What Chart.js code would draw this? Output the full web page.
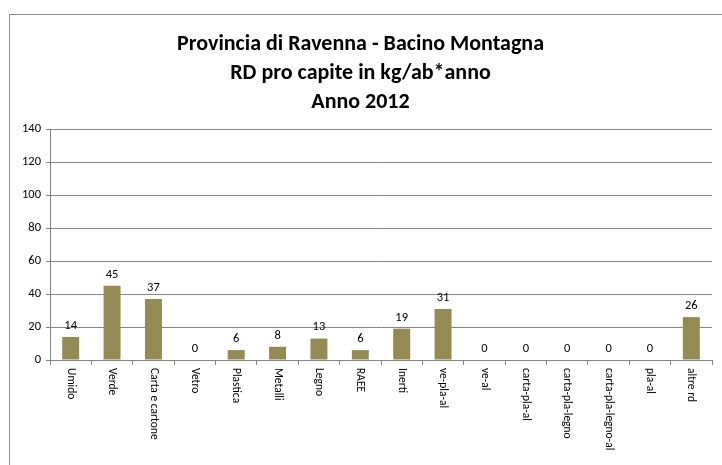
<!DOCTYPE html>
<html>
<head>
<meta charset="utf-8">
<script src="https://cdn.jsdelivr.net/npm/chart.js@4"></script>
<style>
  body { margin: 0; background: #fff; }
  #wrap { position: relative; width: 722px; height: 465px; overflow: hidden; }
  #frame { position: absolute; left: 9px; top: 14px; width: 760px; height: 500px; border: 1px solid #8c8c8c; }
  canvas { position: absolute; left: 0; top: 0; }
</style>
</head>
<body>
<div id="wrap">
  <div id="frame"></div>
  <canvas id="rdChart" width="722" height="465"></canvas>
</div>
<script>
const categories = ['Umido', 'Verde', 'Carta e cartone', 'Vetro', 'Plastica', 'Metalli', 'Legno', 'RAEE',
    'Inerti', 've-pla-al', 've-al', 'carta-pla-al', 'carta-pla-legno', 'carta-pla-legno-al', 'pla-al', 'altre rd'];
const rdValues = [14, 45, 37, 0, 6, 8, 13, 6, 19, 31, 0, 0, 0, 0, 0, 26];
const titleLines = ['Provincia di Ravenna - Bacino Montagna', 'RD pro capite in kg/ab*anno', 'Anno 2012'];

const fontFamily = 'Carlito, Calibri, "Open Sans", "Liberation Sans", sans-serif';

// values above bars + labels rotated to read top-to-bottom
const barLabels = {
    id: 'barLabels',
    afterDatasetsDraw(chart) {
        const ctx = chart.ctx;
        const meta = chart.getDatasetMeta(0);
        ctx.save();
        ctx.font = '12.5px ' + fontFamily;
        ctx.fillStyle = '#000';
        ctx.textAlign = 'center';
        ctx.textBaseline = 'bottom';
        meta.data.forEach(function (bar, i) {
            ctx.fillText(rdValues[i], bar.x, bar.y - 5);
        });
        ctx.restore();

        const xScale = chart.scales.x;
        ctx.save();
        ctx.font = '11.5px ' + fontFamily;
        ctx.fillStyle = '#000';
        ctx.textAlign = 'left';
        ctx.textBaseline = 'middle';
        categories.forEach(function (c, i) {
            ctx.save();
            ctx.translate(xScale.getPixelForValue(i), xScale.top + 8);
            ctx.rotate(Math.PI / 2);
            ctx.fillText(c, 0, 0);
            ctx.restore();
        });
        ctx.restore();
    }
};

new Chart(document.getElementById('rdChart').getContext('2d'), {
    type: 'bar',
    data: {
        labels: categories,
        datasets: [{
            data: rdValues,
            backgroundColor: '#948a54',
            borderWidth: 0,
            barPercentage: 0.82,
            categoryPercentage: 0.5
        }]
    },
    options: {
        responsive: false,
        animation: false,
        layout: { padding: { left: 9, right: 10, top: 0, bottom: 0 } },
        plugins: {
            legend: { display: false },
            tooltip: { enabled: false },
            title: {
                display: true,
                text: titleLines,
                color: '#000',
                font: { family: fontFamily, size: 22, weight: 'bold', lineHeight: 1.32 },
                padding: { top: 30, bottom: 12 }
            }
        },
        scales: {
            x: {
                grid: { display: true, drawOnChartArea: false, offset: true, tickLength: 5, color: '#868686' },
                border: { color: '#868686' },
                ticks: { display: false },
                afterFit: function (scale) { scale.height = 105; }
            },
            y: {
                min: 0,
                max: 140,
                ticks: { stepSize: 20, color: '#000', font: { family: fontFamily, size: 12.5 }, padding: 5 },
                grid: { color: '#868686', tickLength: 4 },
                border: { color: '#868686' },
                afterFit: function (scale) { scale.width = 41; }
            }
        }
    },
    plugins: [barLabels]
});
</script>
</body>
</html>
